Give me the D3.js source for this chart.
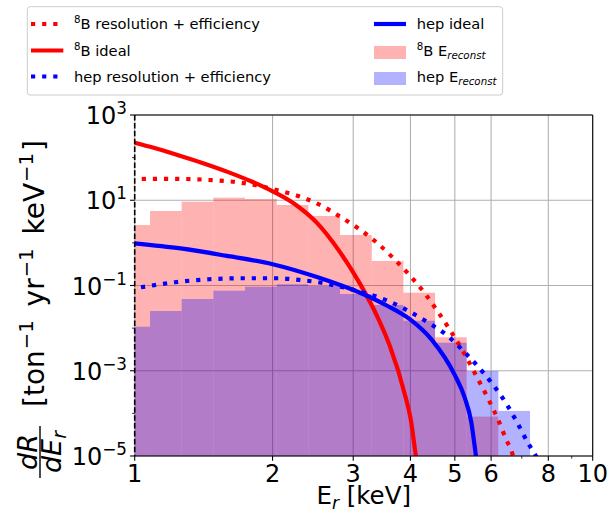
<!DOCTYPE html>
<html>
<head>
<meta charset="utf-8">
<script src="https://cdn.jsdelivr.net/npm/d3@7"></script>
<style>
  body { margin: 0; background: #fff; }
  svg { display: block; }
  text { font-family: "DejaVu Sans", sans-serif; fill: #000; }
</style>
</head>
<body>
<svg id="chart" width="610" height="517"></svg>
<script>
// ---------- data (recoil energy in keV, rate in ton^-1 yr^-1 keV^-1) ----------
// histogram bin edges shared by both reconstructed-energy histograms
const binEdges = [0.921, 1.080, 1.266, 1.485, 1.741, 2.042, 2.394, 2.808, 3.293, 3.861, 4.527, 5.308, 6.224, 7.298];
const b8Reconst = [2.62, 5.60, 9.25, 11.5, 10.7, 7.74, 4.27, 1.53, 0.376, 0.0678, 0.0061, 8.4e-5, 0];
const hepReconst = [0.0108, 0.0252, 0.0482, 0.0755, 0.0937, 0.107, 0.0973, 0.0632, 0.0349, 0.0149, 0.00455, 0.000986, 0.000114];

// 8B ideal spectrum
const b8IdealE = [1.0, 1.1, 1.25, 1.4, 1.6, 1.8, 2.0, 2.25, 2.5, 2.8, 3.1, 3.4, 3.6, 3.9, 4.0, 4.11, 4.16];
const b8IdealRate = [224, 170, 112, 75.9, 45.7, 27.5, 16.2, 7.76, 2.95, 0.631, 0.112, 0.017, 0.0040, 2.5e-4, 7.9e-5, 1e-5, 4e-6];

// 8B with resolution + efficiency
const b8ResE = [1.036, 1.15, 1.3, 1.46, 1.64, 1.83, 2.04, 2.30, 2.54, 2.81, 3.09, 3.39, 3.68, 3.98, 4.29, 4.58, 4.88, 5.18, 5.62, 5.92, 6.21, 6.49, 6.65, 6.70, 6.8];
const b8ResRate = [31.5, 31.9, 31.5, 29.9, 27.2, 22.8, 17.4, 12.1, 7.74, 4.11, 2.12, 0.977, 0.426, 0.176, 0.0678, 0.0252, 0.00904, 0.00318, 6.3e-4, 2.14e-4, 7.26e-5, 2.29e-5, 1.31e-5, 1e-5, 7.2e-6];

// hep ideal spectrum
const hepIdealE = [1.0, 1.26, 1.58, 2.0, 2.5, 3.15, 3.55, 4.0, 4.45, 5.0, 5.25, 5.43, 5.56, 5.62];
const hepIdealRate = [0.977, 0.741, 0.501, 0.316, 0.158, 0.0631, 0.0339, 0.0158, 0.00537, 7.9e-4, 2.4e-4, 6.3e-5, 1e-5, 4.3e-6];

// hep with resolution + efficiency
const hepResE = [1.032, 1.225, 1.452, 1.726, 2.042, 2.286, 2.559, 2.704, 3.199, 3.565, 3.954, 4.375, 4.797, 5.212, 5.623, 6.067, 6.471, 6.855, 7.228, 7.516, 7.7];
const hepResRate = [0.0908, 0.119, 0.140, 0.148, 0.148, 0.135, 0.116, 0.103, 0.0656, 0.0440, 0.0256, 0.0134, 0.0069, 0.00295, 0.00124, 4.6e-4, 1.72e-4, 5.85e-5, 1.99e-5, 1e-5, 6e-6];

// axis ticks
const xMajorTicks = [1, 2, 3, 4, 5, 6, 8, 10];
const xMinorTicks = [7, 9];
const yMajorTicks = [1e-5, 1e-3, 1e-1, 1e1, 1e3];
const yMinorTicks = [1e-4, 1e-2, 1e0, 1e2];

// ---------- layout ----------
const plot = { left: 134.7, right: 592.7, top: 115, bottom: 456 };
const RED = "#ff0000", BLUE = "#0000ff";
const LW = 4.2;                         // curve line width
const DOT = `${LW},${(LW * 1.65).toFixed(2)}`;

const svg = d3.select("#chart");

const x = d3.scaleLog().domain([1, 10]).range([plot.left, plot.right]);
const y = d3.scaleLog().domain([1e-5, 1e3]).range([plot.bottom, plot.top]);

svg.append("defs").append("clipPath").attr("id", "plotClip")
  .append("rect")
  .attr("x", plot.left).attr("y", plot.top)
  .attr("width", plot.right - plot.left).attr("height", plot.bottom - plot.top);

// grid
const grid = svg.append("g").attr("stroke", "#b0b0b0").attr("stroke-width", 1.07);
grid.selectAll("line.gx").data(xMajorTicks).join("line")
  .attr("x1", d => x(d)).attr("x2", d => x(d))
  .attr("y1", plot.top).attr("y2", plot.bottom);
grid.selectAll("line.gy").data(yMajorTicks).join("line")
  .attr("x1", plot.left).attr("x2", plot.right)
  .attr("y1", d => y(d)).attr("y2", d => y(d));

const area = svg.append("g").attr("clip-path", "url(#plotClip)");

// reconstructed-energy histograms
function histogram(values, color) {
  const bins = values.map((v, i) => ({ x0: binEdges[i], x1: binEdges[i + 1], v })).filter(b => b.v > 0);
  area.append("g").selectAll("rect").data(bins).join("rect")
    .attr("x", b => x(b.x0))
    .attr("width", b => x(b.x1) - x(b.x0))
    .attr("y", b => y(b.v))
    .attr("height", b => plot.bottom + 5 - y(b.v))
    .attr("fill", color).attr("fill-opacity", 0.3);
}
histogram(b8Reconst, RED);
histogram(hepReconst, BLUE);

// spectra
const line = d3.line().x(d => x(d[0])).y(d => y(d[1])).curve(d3.curveMonotoneX);
function curve(es, rs, color, dotted) {
  area.append("path")
    .datum(es.map((e, i) => [e, rs[i]]))
    .attr("d", line)
    .attr("fill", "none")
    .attr("stroke", color)
    .attr("stroke-width", LW)
    .attr("stroke-dasharray", dotted ? DOT : null);
}
curve(b8ResE, b8ResRate, RED, true);
curve(b8IdealE, b8IdealRate, RED, false);
curve(hepResE, hepResRate, BLUE, true);
curve(hepIdealE, hepIdealRate, BLUE, false);

// frame: top, right, bottom spines; threshold line at 1 keV on the left
const frame = svg.append("g").attr("stroke", "#000").attr("stroke-width", 1.07);
frame.append("line").attr("x1", plot.left).attr("x2", plot.right).attr("y1", plot.top).attr("y2", plot.top);
frame.append("line").attr("x1", plot.right).attr("x2", plot.right).attr("y1", plot.top).attr("y2", plot.bottom);
frame.append("line").attr("x1", plot.left).attr("x2", plot.right).attr("y1", plot.bottom).attr("y2", plot.bottom);
svg.append("line")
  .attr("x1", x(1)).attr("x2", x(1)).attr("y1", plot.top).attr("y2", plot.bottom)
  .attr("stroke", "#000").attr("stroke-width", 1.6).attr("stroke-dasharray", "5.5,2.4");

// axis ticks
const ticks = svg.append("g").attr("stroke", "#000");
ticks.selectAll("line.xM").data(xMajorTicks).join("line")
  .attr("x1", d => x(d)).attr("x2", d => x(d))
  .attr("y1", plot.bottom).attr("y2", plot.bottom + 4.7).attr("stroke-width", 1.07);
ticks.selectAll("line.xm").data(xMinorTicks).join("line")
  .attr("x1", d => x(d)).attr("x2", d => x(d))
  .attr("y1", plot.bottom).attr("y2", plot.bottom + 2.7).attr("stroke-width", 0.8);
ticks.selectAll("line.yM").data(yMajorTicks).join("line")
  .attr("x1", plot.left - 4.7).attr("x2", plot.left)
  .attr("y1", d => y(d)).attr("y2", d => y(d)).attr("stroke-width", 1.07);
ticks.selectAll("line.ym").data(yMinorTicks).join("line")
  .attr("x1", plot.left - 2.7).attr("x2", plot.left)
  .attr("y1", d => y(d)).attr("y2", d => y(d)).attr("stroke-width", 0.8);

svg.append("g").selectAll("text").data(xMajorTicks).join("text")
  .attr("x", d => x(d)).attr("y", 482)
  .attr("text-anchor", "middle").attr("font-size", 24)
  .text(d => d);

// y tick labels as powers of ten
const yLab = svg.append("g").selectAll("text").data(yMajorTicks).join("text")
  .attr("x", 127).attr("y", d => y(d) + 9)
  .attr("text-anchor", "end").attr("font-size", 24);
yLab.append("tspan").text("10");
yLab.append("tspan").attr("font-size", 16.8).attr("dy", -10)
  .text(d => { const p = Math.round(Math.log10(d)); return p < 0 ? "\u2212" + (-p) : String(p); });

// x label
const xl = svg.append("text").attr("x", (plot.left + plot.right) / 2).attr("y", 504)
  .attr("text-anchor", "middle").attr("font-size", 24.5);
xl.append("tspan").text("E");
xl.append("tspan").attr("font-style", "italic").attr("font-size", 17).attr("dy", 5).text("r");
xl.append("tspan").attr("dy", -5).text(" [keV]");

// y label: dR/dE_r [ton^-1 yr^-1 keV^-1], rotated to read upward
const YFS = 28;
const yl = svg.append("g").attr("transform", "translate(43.5,480) rotate(-90)");
const fracW = 54;
yl.append("text").attr("x", fracW / 2 + 1).attr("y", -7).attr("text-anchor", "middle")
  .attr("font-size", 27).attr("font-style", "italic").text("dR");
yl.append("line").attr("x1", 2).attr("x2", fracW).attr("y1", -3.5).attr("y2", -3.5)
  .attr("stroke", "#000").attr("stroke-width", 1.4);
const den = yl.append("text").attr("x", fracW / 2 + 1).attr("y", 17).attr("text-anchor", "middle")
  .attr("font-size", 27).attr("font-style", "italic");
den.append("tspan").text("dE");
den.append("tspan").attr("font-size", 19).attr("dy", 5).text("r");
const unit = yl.append("text").attr("x", 73).attr("y", 0).attr("font-size", YFS);
const SUP = YFS * 0.7, RAISE = 11;
unit.append("tspan").text("[ton");
unit.append("tspan").attr("font-size", SUP).attr("dy", -RAISE).attr("dx", 1).text("\u22121");
unit.append("tspan").attr("dy", RAISE).attr("dx", 5).text(" yr");
unit.append("tspan").attr("font-size", SUP).attr("dy", -RAISE).attr("dx", 1).text("\u22121");
unit.append("tspan").attr("dy", RAISE).attr("dx", 5).text(" keV");
unit.append("tspan").attr("font-size", SUP).attr("dy", -RAISE).attr("dx", 1).text("\u22121");
unit.append("tspan").attr("dy", RAISE).attr("dx", 2).text("]");

// ---------- legend ----------
const leg = svg.append("g");
leg.append("rect").attr("x", 27.3).attr("y", 6.7).attr("width", 475.4).attr("height", 88.3)
  .attr("rx", 3).attr("fill", "#fff").attr("fill-opacity", 0.8)
  .attr("stroke", "#cccccc").attr("stroke-width", 1);

const FS = 14.67;
function legendLabel(g, tx, cy, parts) {
  const t = g.append("text").attr("x", tx).attr("y", cy + 5.3).attr("font-size", FS);
  parts.forEach(p => {
    const s = t.append("tspan").text(p.t);
    if (p.sup) s.attr("font-size", FS * 0.7).attr("dy", -6);
    if (p.sub) s.attr("font-size", FS * 0.7).attr("dy", 3.5).attr("font-style", "italic");
    if (p.down) s.attr("dy", 6);
  });
}
const legendLines = [
  { col: 0, cy: 24,   color: RED,  dotted: true,  label: [{ t: "8", sup: true }, { t: "B resolution + efficiency", down: true }] },
  { col: 0, cy: 50.5, color: RED,  dotted: false, label: [{ t: "8", sup: true }, { t: "B ideal", down: true }] },
  { col: 0, cy: 76.5, color: BLUE, dotted: true,  label: [{ t: "hep resolution + efficiency" }] },
  { col: 1, cy: 24,   color: BLUE, dotted: false, label: [{ t: "hep ideal" }] }
];
const colX = [{ h0: 31, h1: 63.3, tx: 74 }, { h0: 374, h1: 406, tx: 416.7 }];
legendLines.forEach(e => {
  const c = colX[e.col];
  leg.append("line").attr("x1", c.h0).attr("x2", c.h1).attr("y1", e.cy).attr("y2", e.cy)
    .attr("stroke", e.color).attr("stroke-width", LW)
    .attr("stroke-dasharray", e.dotted ? DOT : null);
  legendLabel(leg, c.tx, e.cy, e.label);
});
const legendPatches = [
  { cy: 50.5, color: RED,  label: [{ t: "8", sup: true }, { t: "B E", down: true }, { t: "reconst", sub: true }] },
  { cy: 76.5, color: BLUE, label: [{ t: "hep E" }, { t: "reconst", sub: true }] }
];
legendPatches.forEach(e => {
  const c = colX[1];
  leg.append("rect").attr("x", c.h0).attr("y", e.cy - 4.5).attr("width", c.h1 - c.h0).attr("height", 13)
    .attr("fill", e.color).attr("fill-opacity", 0.3);
  legendLabel(leg, c.tx, e.cy, e.label);
});
</script>
</body>
</html>
